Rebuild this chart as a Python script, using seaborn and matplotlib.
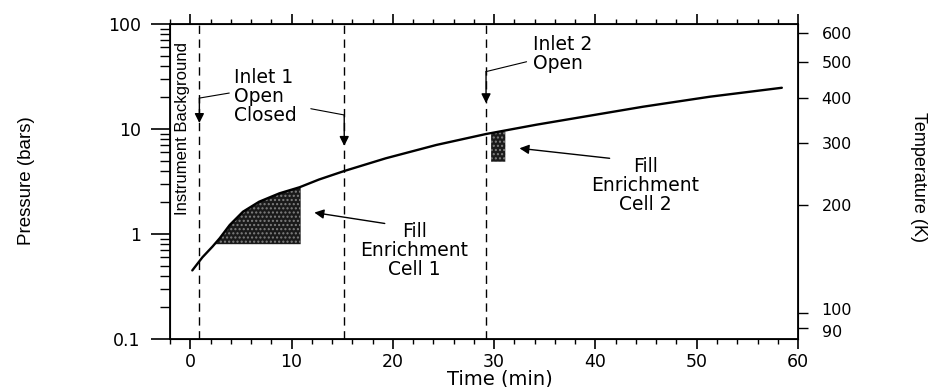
import numpy as np
import pandas as pd
import matplotlib
matplotlib.use('Agg')
import matplotlib.pyplot as plt
import matplotlib.ticker as ticker
import matplotlib.transforms as mtransforms
import seaborn as sns

sns.set_style('ticks')
plt.rcParams['font.family'] = ['DejaVu Sans']
plt.rcParams.update({'text.color': 'k', 'axes.labelcolor': 'k', 'xtick.color': 'k',
                     'ytick.color': 'k', 'axes.edgecolor': 'k'})
narrow = ['Liberation Sans Narrow', 'Liberation Sans', 'DejaVu Sans']

# pressure trace
time_min = [0.2, 1.2, 2.2, 2.9, 3.9, 5.2, 6.8, 8.8, 10.8, 12.7, 15.2, 19.3,
            24.3, 29.2, 34.2, 37.4, 44.7, 51.3, 58.4]
pressure_bar = [0.45, 0.60, 0.76, 0.91, 1.22, 1.63, 2.03, 2.44, 2.79, 3.3, 3.98,
                5.26, 7.05, 8.96, 11.0, 12.4, 16.3, 20.3, 24.7]

# shaded fill periods
fill1_time = [2.5, 2.9, 3.9, 5.2, 6.8, 8.8, 10.9]
fill1_top = [0.80, 0.91, 1.22, 1.63, 2.03, 2.44, 2.80]
fill1_floor = 0.80
fill2_time = [29.7, 31.1]
fill2_top = [9.1, 9.5]
fill2_floor = 4.88

event_time = [0.9, 15.2, 29.2]

x_ticks = [0, 10, 20, 30, 40, 50, 60]
y_ticks = [0.1, 1, 10, 100]
y_tick_labels = ['0.1', '1', '10', '100']
temp_labels = ['90', '100', '200', '300', '400', '500', '600']
temp_at_pressure = [0.128, 0.178, 1.90, 7.41, 19.6, 43.2, 81.5]

df = pd.DataFrame({'time': time_min, 'pressure': pressure_bar})

fig = plt.figure(figsize=(9.3, 3.87), dpi=100)
ax = fig.add_axes([0.1828, 0.124, 0.6753, 0.814])

sns.lineplot(data=df, x='time', y='pressure', ax=ax, color='k', lw=1.7)

ax.fill_between(fill1_time, fill1_floor, fill1_top, facecolor='0.1',
                edgecolor='0.5', hatch='....', lw=0)
ax.fill_between(fill2_time, fill2_floor, fill2_top, facecolor='0.1',
                edgecolor='0.5', hatch='....', lw=0)

for t in event_time:
    ax.axvline(t, color='k', lw=1, dashes=(6, 4))

ax.set_yscale('log')
ax.set_xlim(-2, 60)
ax.set_ylim(0.1, 100)
ax.set_xticks(x_ticks)
ax.xaxis.set_minor_locator(ticker.MultipleLocator(2))
ax.set_yticks(y_ticks)
ax.set_yticklabels(y_tick_labels)
ax.yaxis.set_minor_locator(ticker.LogLocator(subs=np.arange(2, 10)))
ax.yaxis.set_minor_formatter(ticker.NullFormatter())
ax.set_xlabel('')
ax.set_ylabel('')

ax.tick_params(axis='x', which='major', direction='out', length=7, width=1.2,
               top=True, labelsize=12.5, pad=3)
ax.tick_params(axis='x', which='minor', direction='out', length=3.5, width=1,
               top=True)
ax.tick_params(axis='y', which='major', direction='out', length=14, width=1.2,
               labelsize=12.5, pad=7)
ax.tick_params(axis='y', which='minor', direction='out', length=7, width=1)
for s in ax.spines.values():
    s.set_linewidth(1.3)

ax2 = ax.twinx()
ax2.set_yscale('log')
ax2.set_ylim(0.1, 100)
ax2.set_yticks(temp_at_pressure)
ax2.set_yticklabels(temp_labels)
ax2.yaxis.set_minor_locator(ticker.NullLocator())
ax2.tick_params(axis='y', direction='out', length=7, width=1, labelsize=11.5, pad=10)
# the 90 and 100 labels sit very close; nudge them apart a little
lbls = ax2.get_yticklabels()
lbls[0].set_transform(lbls[0].get_transform() +
                      mtransforms.ScaledTranslation(0, -2.5 / 72, fig.dpi_scale_trans))
lbls[1].set_transform(lbls[1].get_transform() +
                      mtransforms.ScaledTranslation(0, 2.5 / 72, fig.dpi_scale_trans))

# labels
fig.text(0.029, 0.532, 'Pressure (bars)', rotation=90, ha='center', va='center',
         fontsize=13.5, family=narrow)
fig.text(0.988, 0.543, 'Temperature (K)', rotation=270, ha='center', va='center',
         fontsize=13, family=narrow)
fig.text(0.538, 0.02, 'Time (min)', ha='center', va='center', fontsize=14)

ax.text(-0.8, 10.1, 'Instrument Background', rotation=90, ha='center', va='center',
        fontsize=12, family=narrow)

# event annotations
txt = dict(fontsize=13.5, linespacing=1.0)
ax.text(4.35, 38.1, 'Inlet 1\nOpen\nClosed', ha='left', va='top', **txt)
ax.text(33.8, 78.6, 'Inlet 2\nOpen', ha='left', va='top', **txt)
ax.text(22.1, 1.30, 'Fill\nEnrichment\nCell 1', ha='center', va='top',
        multialignment='center', **txt)
ax.text(44.9, 5.41, 'Fill\nEnrichment\nCell 2', ha='center', va='top',
        multialignment='center', **txt)

arrow = dict(arrowstyle='-|>', color='k', lw=1, mutation_scale=14,
             shrinkA=0, shrinkB=0)
ax.plot([3.85, 0.9], [22.0, 19.7], color='k', lw=0.8)
ax.annotate('', xy=(0.9, 11.4), xytext=(0.9, 19.7), arrowprops=arrow)
ax.plot([11.9, 15.2], [15.6, 13.6], color='k', lw=0.8)
ax.annotate('', xy=(15.2, 6.9), xytext=(15.2, 13.6), arrowprops=arrow)
ax.plot([33.2, 29.2], [43.7, 35.2], color='k', lw=0.8)
ax.annotate('', xy=(29.2, 17.6), xytext=(29.2, 35.2), arrowprops=arrow)
ax.annotate('', xy=(12.25, 1.6), xytext=(19.2, 1.26), arrowprops=arrow)
ax.annotate('', xy=(32.5, 6.55), xytext=(41.4, 5.26), arrowprops=arrow)

fig.savefig('out.png', dpi=100)
